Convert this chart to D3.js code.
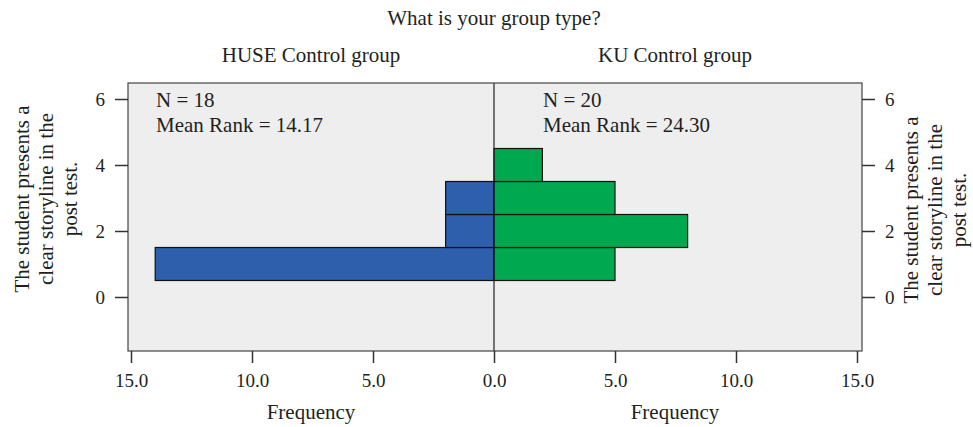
<!DOCTYPE html>
<html><head><meta charset="utf-8">
<script src="https://cdn.jsdelivr.net/npm/d3@7"></script>
<style>body{margin:0;background:#fff}text{font-family:"Liberation Serif","DejaVu Serif",serif;fill:#231f20}</style>
</head><body><svg id="c" width="973" height="427"></svg>
<script>
const bins = [1, 2, 3, 4];
const huseFreq = [14, 2, 2, 0];
const kuFreq = [5, 8, 5, 2];
const yTicks = [0, 2, 4, 6];
const xTicks = [0, 5, 10, 15];
const groups = ["HUSE Control group", "KU Control group"];
const stats = [["N = 18", "Mean Rank = 14.17"], ["N = 20", "Mean Rank = 24.30"]];
const title = "What is your group type?";
const yTitle = ["The student presents a", "clear storyline in the", "post test."];

(function(){
const svg = d3.select("#c");
const pTop = 83, pBottom = 351, pLeft = 128, pRight = 862, mid = 494;
const y = d3.scaleLinear().domain([0, 6]).range([297, 99]);
const xL = d3.scaleLinear().domain([0, 15]).range([mid, 131]);
const xR = d3.scaleLinear().domain([0, 15]).range([mid, 857]);

svg.append("rect").attr("x", pLeft).attr("y", pTop).attr("width", pRight-pLeft).attr("height", pBottom-pTop)
  .attr("fill", "#eeeeee");

const blue = "#2e5fac", green = "#00a84f";
bins.forEach((b, i) => {
  if (huseFreq[i] > 0)
    svg.append("rect").attr("x", xL(huseFreq[i])).attr("y", y(b+0.5)).attr("width", xL(0)-xL(huseFreq[i]))
      .attr("height", y(b-0.5)-y(b+0.5)).attr("fill", blue).attr("stroke", "#111").attr("stroke-width", 1.2);
  if (kuFreq[i] > 0)
    svg.append("rect").attr("x", xR(0)).attr("y", y(b+0.5)).attr("width", xR(kuFreq[i])-xR(0))
      .attr("height", y(b-0.5)-y(b+0.5)).attr("fill", green).attr("stroke", "#111").attr("stroke-width", 1.2);
});

svg.append("line").attr("x1", mid).attr("x2", mid).attr("y1", pTop).attr("y2", pBottom).attr("stroke", "#222").attr("stroke-width", 1.2);
svg.append("rect").attr("x", pLeft).attr("y", pTop).attr("width", pRight-pLeft).attr("height", pBottom-pTop)
  .attr("fill", "none").attr("stroke", "#444").attr("stroke-width", 1.2);

const fmt = d3.format(".1f");
function styleAxis(g){ g.select(".domain").remove(); g.selectAll("line").attr("stroke","#333").attr("stroke-width",1.5);
  g.selectAll("text").style("font-family",'"Liberation Serif",serif').style("font-size","19px").attr("fill","#231f20"); }

svg.append("g").attr("transform", `translate(0,${pBottom})`)
  .call(d3.axisBottom(xL).tickValues(xTicks).tickFormat(fmt).tickSize(12).tickPadding(11)).call(styleAxis);
svg.append("g").attr("transform", `translate(0,${pBottom})`)
  .call(d3.axisBottom(xR).tickValues(xTicks.filter(d => d > 0)).tickFormat(fmt).tickSize(12).tickPadding(11)).call(styleAxis);
svg.append("g").attr("transform", `translate(${pLeft},0)`)
  .call(d3.axisLeft(y).tickValues(yTicks).tickFormat(d3.format("d")).tickSize(13).tickPadding(10)).call(styleAxis);
svg.append("g").attr("transform", `translate(${pRight},0)`)
  .call(d3.axisRight(y).tickValues(yTicks).tickFormat(d3.format("d")).tickSize(13).tickPadding(10)).call(styleAxis);

const fs = "21px";
svg.append("text").attr("x", mid).attr("y", 25).attr("text-anchor", "middle").style("font-size", fs).text(title);
[311, 675].forEach((cx, i) => {
  svg.append("text").attr("x", cx).attr("y", 62).attr("text-anchor", "middle").style("font-size", fs).text(groups[i]);
  svg.append("text").attr("x", cx).attr("y", 419).attr("text-anchor", "middle").style("font-size", fs).text("Frequency");
});
[[156, 0], [543, 1]].forEach(([tx, i]) => {
  svg.append("text").attr("x", tx).attr("y", 107).style("font-size", fs).text(stats[i][0]);
  svg.append("text").attr("x", tx).attr("y", 132).style("font-size", fs).text(stats[i][1]);
});
function yTitleAt(x0, cy){
  yTitle.forEach((t, k) => {
    svg.append("text").attr("transform", `translate(${x0 + k*24},${cy}) rotate(-90)`)
      .attr("text-anchor", "middle").style("font-size", fs).text(t);
  });
}
yTitleAt(29, 199);
yTitleAt(918, 210);
})();
</script></body></html>
